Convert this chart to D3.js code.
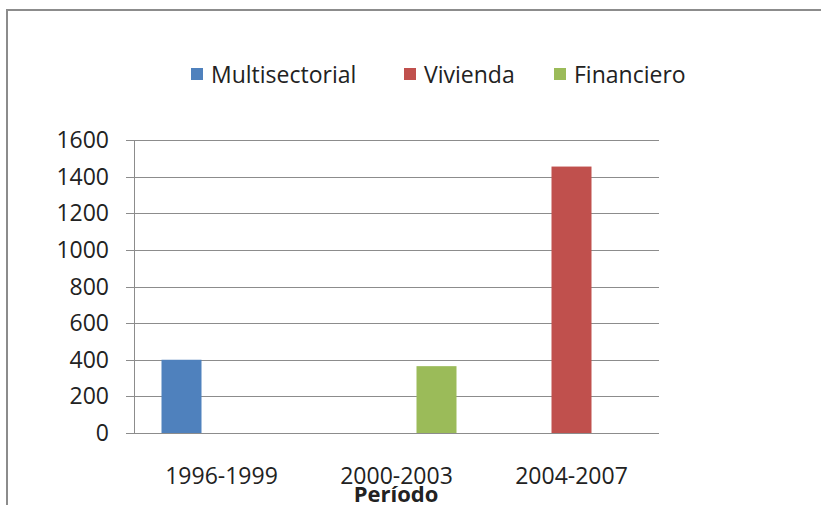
<!DOCTYPE html>
<html lang="es">
<head>
<meta charset="utf-8" />
<script src="https://cdn.jsdelivr.net/npm/d3@7"></script>
<style>
  body { margin: 0; background: #fff; }
  text { font-family: "Open Sans", "DejaVu Sans", sans-serif; fill: #222; }
</style>
</head>
<body>
<script>
// data
var periods = ["1996-1999", "2000-2003", "2004-2007"];
var seriesNames = ["Multisectorial", "Vivienda", "Financiero"];
var seriesColors = ["#4F81BD", "#C0504D", "#9BBB59"];
var multisectorial = [400, 0, 0];
var vivienda = [0, 0, 1455];
var financiero = [0, 365, 0];
var yTicks = [0, 200, 400, 600, 800, 1000, 1200, 1400, 1600];

var values = [multisectorial, vivienda, financiero];

var W = 821, H = 505;
var plotL = 134, plotR = 659, plotT = 140, plotB = 433;

var svg = d3.select("body").append("svg")
    .attr("width", W).attr("height", H);

// outer frame (runs off the right and bottom edges)
svg.append("rect")
    .attr("x", 7).attr("y", 10)
    .attr("width", W + 20).attr("height", H + 20)
    .attr("fill", "none").attr("stroke", "#8c8c8c").attr("stroke-width", 2);

var x = d3.scaleBand().domain(periods).range([plotL, plotR]);
var y = d3.scaleLinear().domain([0, 1600]).range([plotB, plotT]);
var barW = 40;

// gridlines
svg.append("g").selectAll("line")
    .data(yTicks)
  .enter().append("line")
    .attr("x1", plotL - 8).attr("x2", plotR)
    .attr("y1", function(d) { return Math.round(y(d)) + 0.5; })
    .attr("y2", function(d) { return Math.round(y(d)) + 0.5; })
    .attr("stroke", "#8c8c8c").attr("stroke-width", 1);

// y axis line
svg.append("line")
    .attr("x1", plotL + 0.5).attr("x2", plotL + 0.5)
    .attr("y1", y(1600)).attr("y2", y(0))
    .attr("stroke", "#8c8c8c");

// y labels
svg.append("g").selectAll("text")
    .data(yTicks)
  .enter().append("text")
    .attr("x", 109)
    .attr("y", function(d) { return y(d); })
    .attr("dy", "0.35em")
    .attr("text-anchor", "end")
    .attr("font-size", 23)
    .text(function(d) { return d; });

// bars
seriesNames.forEach(function(name, i) {
  svg.append("g").selectAll("rect")
      .data(values[i])
    .enter().append("rect")
      .attr("x", function(d, j) { return x(periods[j]) + x.bandwidth() / 2 - 60 + i * barW; })
      .attr("y", function(d) { return y(d); })
      .attr("width", barW)
      .attr("height", function(d) { return y(0) - y(d); })
      .attr("fill", seriesColors[i]);
});

// x labels
svg.append("g").selectAll("text")
    .data(periods)
  .enter().append("text")
    .attr("x", function(d) { return x(d) + x.bandwidth() / 2; })
    .attr("y", 484)
    .attr("text-anchor", "middle")
    .attr("font-size", 23)
    .text(function(d) { return d; });

svg.append("text")
    .attr("x", 396).attr("y", 502)
    .attr("text-anchor", "middle")
    .attr("font-size", 22).attr("font-weight", "bold")
    .text("Período");

// legend
var legendX = [191, 404, 554];
seriesNames.forEach(function(name, i) {
  svg.append("rect")
      .attr("x", legendX[i]).attr("y", 68)
      .attr("width", 12).attr("height", 12)
      .attr("fill", seriesColors[i]);
  svg.append("text")
      .attr("x", legendX[i] + 20).attr("y", 83)
      .attr("font-size", 23)
      .text(name);
});
</script>
</body>
</html>
